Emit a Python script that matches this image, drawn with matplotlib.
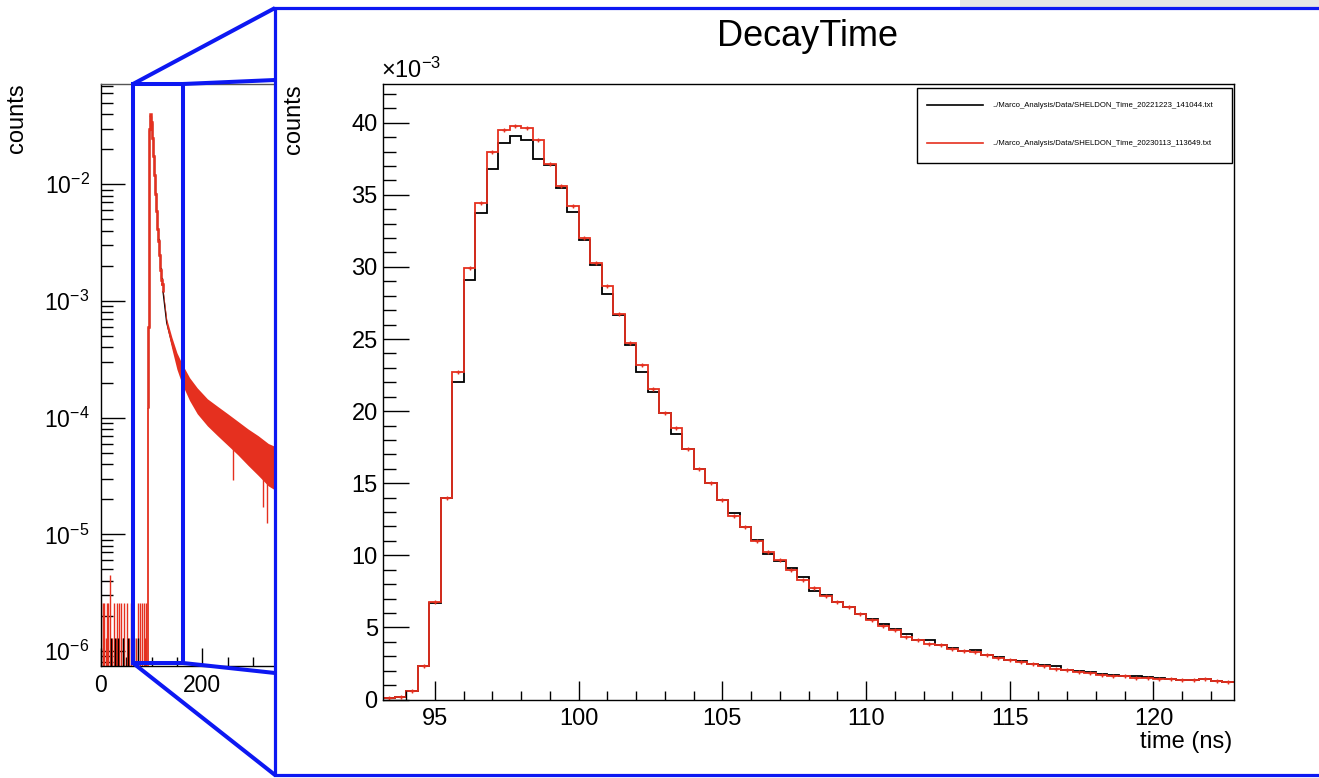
import matplotlib
matplotlib.use("Agg")
import matplotlib.pyplot as plt
import numpy as np
from matplotlib.patches import Rectangle
from matplotlib.ticker import MultipleLocator, LogLocator, NullFormatter

plt.rcParams['font.family'] = ['Liberation Sans', 'DejaVu Sans']
plt.rcParams['mathtext.fontset'] = 'custom'
plt.rcParams['mathtext.rm'] = 'Liberation Sans'
plt.rcParams['mathtext.it'] = 'Liberation Sans:italic'
plt.rcParams['mathtext.bf'] = 'Liberation Sans:bold'

W, H = 1319, 778

# histogram bins shown in the zoomed panel (0.4 ns wide, first edge 93.2 ns)
bin_width = 0.4
first_edge = 93.2
# normalised counts, units of 1e-3
red_counts = [0.12, 0.2, 0.6, 2.35, 6.75, 14.0, 22.7, 29.95, 34.45, 37.95,
              39.5, 39.8, 39.65, 38.8, 37.15, 35.6, 34.2, 32.0, 30.3, 28.65,
              26.7, 24.75, 23.2, 21.5, 19.9, 18.8, 17.4, 16.0, 15.0, 13.85,
              12.7, 11.95, 11.0, 10.2, 9.64, 8.95, 8.3, 7.75, 7.2, 6.75,
              6.4, 5.95, 5.5, 5.13, 4.8, 4.3, 4.1, 3.85, 3.75, 3.5,
              3.35, 3.28, 3.1, 2.9, 2.75, 2.6, 2.47, 2.29, 2.13, 2.06,
              1.9, 1.83, 1.73, 1.66, 1.6, 1.5, 1.5, 1.43, 1.39, 1.37,
              1.37, 1.39, 1.27, 1.2]
black_counts = [0.12, 0.2, 0.6, 2.3, 6.7, 14.0, 22.0, 29.1, 33.75, 36.8,
                38.6, 39.1, 38.8, 37.5, 37.1, 35.5, 33.8, 31.9, 30.15, 28.1,
                26.65, 24.6, 22.7, 21.3, 19.85, 18.4, 17.4, 16.0, 15.0, 13.85,
                12.9, 11.95, 11.05, 10.1, 9.6, 9.1, 8.5, 7.55, 7.25, 6.75,
                6.4, 5.95, 5.55, 5.25, 4.9, 4.55, 4.15, 4.1, 3.75, 3.55,
                3.35, 3.4, 3.1, 2.95, 2.75, 2.65, 2.47, 2.36, 2.29, 2.06,
                2.0, 1.9, 1.8, 1.72, 1.66, 1.6, 1.58, 1.5, 1.42, 1.38,
                1.37, 1.4, 1.3, 1.2]

# full-range log panel: isolated noise bins before the pulse
noise_red_t = [1.2, 4.0, 6.4, 9.6, 12.0, 15.2, 18.4, 22.4, 25.2, 29.6, 32.8, 36.4,
               39.6, 43.2, 46.0, 51.2, 55.6, 59.2, 64.4, 68.8, 74.0, 77.6,
               80.8, 85.2, 88.0, 90.0]
noise_red_v = [2.6e-6, 2.6e-6, 2.6e-6, 1.3e-6, 2.6e-6, 2.6e-6, 4.5e-6, 1.3e-6,
               2.6e-6, 1.3e-6, 2.6e-6, 2.6e-6, 2.6e-6, 1.3e-6, 2.6e-6, 2.6e-6,
               1.3e-6, 2.6e-6, 2.6e-6, 1.3e-6, 2.6e-6, 2.6e-6, 2.6e-6, 2.6e-6,
               1.3e-6, 2.6e-6]
noise_black_t = [20.8, 28.4, 34.8, 44.8, 53.6, 64.8, 72.8]
noise_black_v = [1.3e-6, 1.3e-6, 1.3e-6, 1.3e-6, 1.3e-6, 1.3e-6, 1.3e-6]

# long tail beyond the zoomed window (centre and noise envelope)
tail_t = [122.8, 130, 140, 150, 160, 175, 190, 210, 230, 250, 270, 290, 310, 330, 350]
tail_mid = [1.2e-3, 6.5e-4, 4.4e-4, 3.1e-4, 2.4e-4, 1.8e-4, 1.42e-4, 1.13e-4,
            9.6e-5, 8.1e-5, 6.9e-5, 5.8e-5, 5.0e-5, 4.1e-5, 3.7e-5]
tail_hi = [1.25e-3, 7.0e-4, 4.9e-4, 3.6e-4, 2.9e-4, 2.2e-4, 1.8e-4, 1.45e-4,
           1.25e-4, 1.08e-4, 9.3e-5, 8.0e-5, 7.0e-5, 6.0e-5, 5.5e-5]
tail_lo = [1.15e-3, 6.0e-4, 3.9e-4, 2.6e-4, 1.95e-4, 1.4e-4, 1.08e-4, 8.5e-5,
           7.0e-5, 5.8e-5, 4.8e-5, 3.9e-5, 3.2e-5, 2.6e-5, 2.3e-5]
spike_t = [261, 320, 327]
spike_v = [2.9e-5, 1.7e-5, 1.25e-5]

legend_files = ['../Marco_Analysis/Data/SHELDON_Time_20221223_141044.txt',
                '../Marco_Analysis/Data/SHELDON_Time_20230113_113649.txt']

RED = '#e5301f'
BLUE = '#0d18f2'

red = np.array(red_counts)
black = np.array(black_counts)
edges = first_edge + bin_width * np.arange(len(red) + 1)
centers = 0.5 * (edges[:-1] + edges[1:])

fig = plt.figure(figsize=(W / 100, H / 100), dpi=100)


def px_axes(x0, y0, x1, y1, **kw):
    return fig.add_axes([x0 / W, 1 - y1 / H, (x1 - x0) / W, (y1 - y0) / H], **kw)


# ---------------- left (full range, log) panel ----------------
axL = px_axes(100.7, 84, 330, 665.7, zorder=1)
ylo, yhi = 10 ** -6.126, 10 ** -1.1405
axL.set_yscale('log')
axL.set_ylim(ylo, yhi)
axL.set_xlim(0, (330 - 100.7) / 0.508)

axL.vlines(noise_red_t, ylo, noise_red_v, color=RED, lw=1, zorder=2)
axL.vlines(noise_black_t, ylo, noise_black_v, color='black', lw=1, zorder=3)
axL.stairs(black * 1e-3, edges, baseline=None, color='black', lw=1, zorder=2)
axL.plot(tail_t, tail_mid, color='black', lw=1, zorder=2)
axL.fill_between(tail_t, tail_lo, tail_hi, color=RED, lw=0, zorder=3)
axL.stairs(red * 1e-3, edges, baseline=None, color=RED, lw=1.8, zorder=4)
axL.vlines([edges[0]], ylo, red[0] * 1e-3, color=RED, lw=1.3, zorder=4)
axL.vlines(spike_t, spike_v, tail_lo[9], color=RED, lw=1, zorder=4)

axL.yaxis.set_major_locator(LogLocator(base=10, numticks=12))
axL.yaxis.set_minor_locator(LogLocator(base=10, subs=np.arange(2, 10), numticks=12))
axL.yaxis.set_minor_formatter(NullFormatter())
axL.xaxis.set_major_locator(MultipleLocator(200))
axL.xaxis.set_minor_locator(MultipleLocator(50))
axL.tick_params(axis='y', which='major', direction='in', length=17, width=1, labelsize=16.5, pad=8)
axL.tick_params(axis='y', which='minor', direction='in', length=8.5, width=1)
axL.tick_params(axis='x', which='major', direction='in', length=13, width=1, labelsize=16.5, pad=6)
axL.tick_params(axis='x', which='minor', direction='in', length=6.5, width=1)
axL.spines['top'].set_color('#555555')
for s in axL.spines.values():
    s.set_linewidth(1)

# ---------------- background overlay: frame, zoom box, connectors ----------------
bg = fig.add_axes([0, 0, 1, 1], zorder=2)
bg.set_xlim(0, W)
bg.set_ylim(H, 0)
bg.axis('off')
bg.patch.set_visible(False)
bg.add_patch(Rectangle((960, 0), W - 960, 13, facecolor='#e6e6e6', edgecolor='none'))
bg.add_patch(Rectangle((275, 8), 1070, 767, facecolor='white', edgecolor=BLUE, lw=2.3))
bg.add_patch(Rectangle((133, 84), 50, 579, fill=False, edgecolor=BLUE, lw=2.9))
bg.plot([133, 275], [84, 8], color=BLUE, lw=2.9, solid_capstyle='butt')
bg.plot([183, 275], [84, 80], color=BLUE, lw=2.9, solid_capstyle='butt')
bg.plot([133, 275], [663, 775], color=BLUE, lw=2.9, solid_capstyle='butt')
bg.plot([183, 275], [663, 673], color=BLUE, lw=2.9, solid_capstyle='butt')

# ---------------- main (zoomed, linear) panel ----------------
axM = px_axes(383.3, 84, 1233.9, 699.5, zorder=3)
axM.patch.set_visible(False)
axM.set_xlim(edges[0], edges[-1])
axM.set_ylim(0, (699.5 - 84) / 14.42)
axM.stairs(black, edges, baseline=None, color='black', lw=1.3)
axM.stairs(red, edges, baseline=None, color=RED, lw=1.3)
axM.plot(centers, red, '+', color=RED, ms=3.5, mew=1)

axM.xaxis.set_major_locator(MultipleLocator(5))
axM.xaxis.set_minor_locator(MultipleLocator(1))
axM.yaxis.set_major_locator(MultipleLocator(5))
axM.yaxis.set_minor_locator(MultipleLocator(1))
axM.tick_params(axis='y', which='major', direction='in', length=18.5, width=1, labelsize=17, pad=4)
axM.tick_params(axis='y', which='minor', direction='in', length=9.2, width=1)
axM.tick_params(axis='x', which='major', direction='in', length=13.5, width=1, labelsize=17, pad=6)
axM.tick_params(axis='x', which='minor', direction='in', length=6.5, width=1)
for s in axM.spines.values():
    s.set_linewidth(1)

# ---------------- text overlay ----------------
top = fig.add_axes([0, 0, 1, 1], zorder=4)
top.set_xlim(0, W)
top.set_ylim(H, 0)
top.axis('off')
top.patch.set_visible(False)

top.text(808, 36, 'DecayTime', fontsize=26, ha='center', va='center')
top.text(381, 83, '×10$^{-3}$', fontsize=17, ha='left', va='bottom')
top.text(1232, 742, 'time (ns)', fontsize=17, ha='right', va='center')
top.text(294, 84, 'counts', fontsize=17, rotation=90, ha='center', va='top')
top.text(16.5, 83, 'counts', fontsize=17, rotation=90, ha='center', va='top')

top.add_patch(Rectangle((917, 88), 315, 75, facecolor='white', edgecolor='black', lw=1))
for name, col, y in zip(legend_files, ['black', RED], [105, 143]):
    top.plot([927, 983], [y, y], color=col, lw=1.2)
    top.text(992, y, name, fontsize=5.6, ha='left', va='center')

fig.savefig('out.png', dpi=100)
